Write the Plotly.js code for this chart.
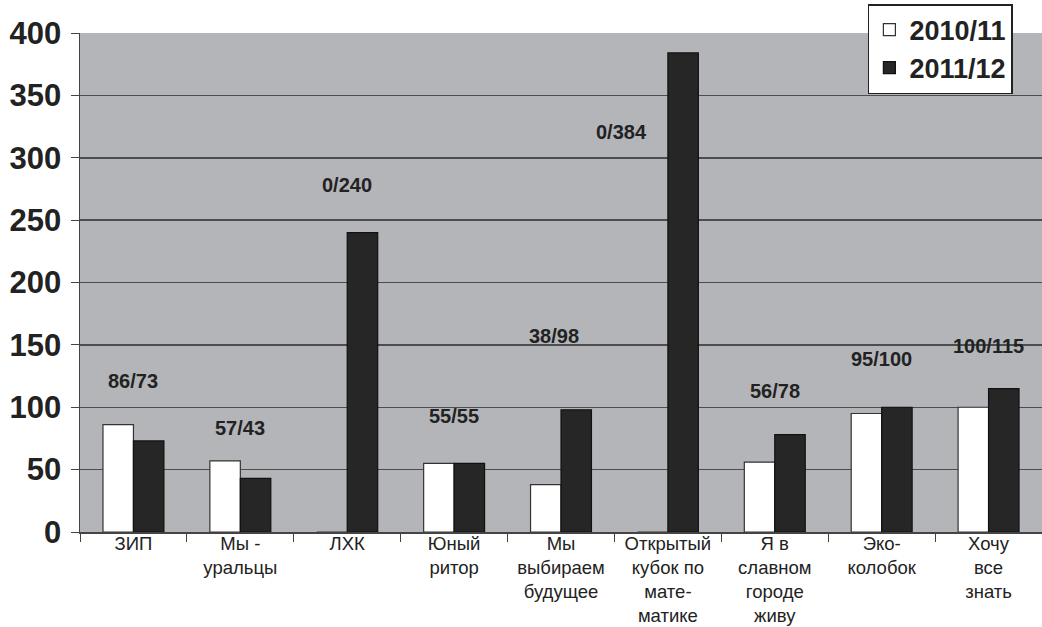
<!DOCTYPE html>
<html><head><meta charset="utf-8">
<script src="https://cdn.plot.ly/plotly-3.0.1.min.js"></script>
<style>html,body{margin:0;padding:0;background:#fff}#c{width:1042px;height:627px}</style>
</head><body><div id="c"></div>
<script>
const categories = ["ЗИП","Мы -<br>уральцы","ЛХК","Юный<br>ритор","Мы<br>выбираем<br>будущее","Открытый<br>кубок по<br>мате-<br>матике","Я в<br>славном<br>городе<br>живу","Эко-<br>колобок","Хочу<br>все<br>знать"];
const series1Name = "2010/11";
const series2Name = "2011/12";
const values2010 = [86,57,0,55,38,0,56,95,100];
const values2011 = [73,43,240,55,98,384,78,100,115];
const labelY = [121,83,278,93,157,321,113,139,149];
const yTicks = [0,50,100,150,200,250,300,350,400];

const traces = [
  {type:"bar", name:series1Name, x:categories, y:values2010,
   marker:{color:"#ffffff", line:{color:"#333", width:1.2}}},
  {type:"bar", name:series2Name, x:categories, y:values2011,
   marker:{color:"#262626", line:{color:"#111", width:1.2}}}
];
const annotations = categories.map((c,i)=>({
  x:c, y:labelY[i], xref:"x", yref:"y", showarrow:false,
  text:values2010[i]+"/"+values2011[i],
  font:{family:"Liberation Sans, Arial", size:20, color:"#222", weight:"bold"}
}));
annotations[5].xshift = -46;
annotations[4].xshift = -7;
const layout = {
  width:1042, height:627,
  margin:{l:80, r:0, t:33, b:95},
  paper_bgcolor:"#ffffff", plot_bgcolor:"#b4b5b9",
  barmode:"group", bargap:0.43, bargroupgap:0,
  font:{family:"Liberation Sans, Arial", color:"#222"},
  xaxis:{type:"category", tickson:"boundaries", ticks:"outside", ticklen:8, tickcolor:"#444",
    showline:true, linecolor:"#444", linewidth:1.5, showgrid:false,
    tickfont:{size:18.5, color:"#222"}, ticklabelstandoff:-6},
  yaxis:{range:[0,400], tickvals:yTicks, ticks:"outside", ticklen:8, tickcolor:"#444",
    showline:true, linecolor:"#444", linewidth:1.5, gridcolor:"#4d4d4d", gridwidth:1.5,
    zeroline:false, tickfont:{size:31, color:"#222", weight:"bold"}, ticklabelstandoff:3},
  legend:{x:0.819, y:1.058, xanchor:"left", yanchor:"top", bgcolor:"#ffffff",
    bordercolor:"#222", borderwidth:1.5, font:{size:27, color:"#222", weight:"bold"},
    itemwidth:30, tracegroupgap:0},
  annotations:annotations,
  showlegend:true
};
Plotly.newPlot("c", traces, layout, {displayModeBar:false, staticPlot:true});
</script></body></html>
